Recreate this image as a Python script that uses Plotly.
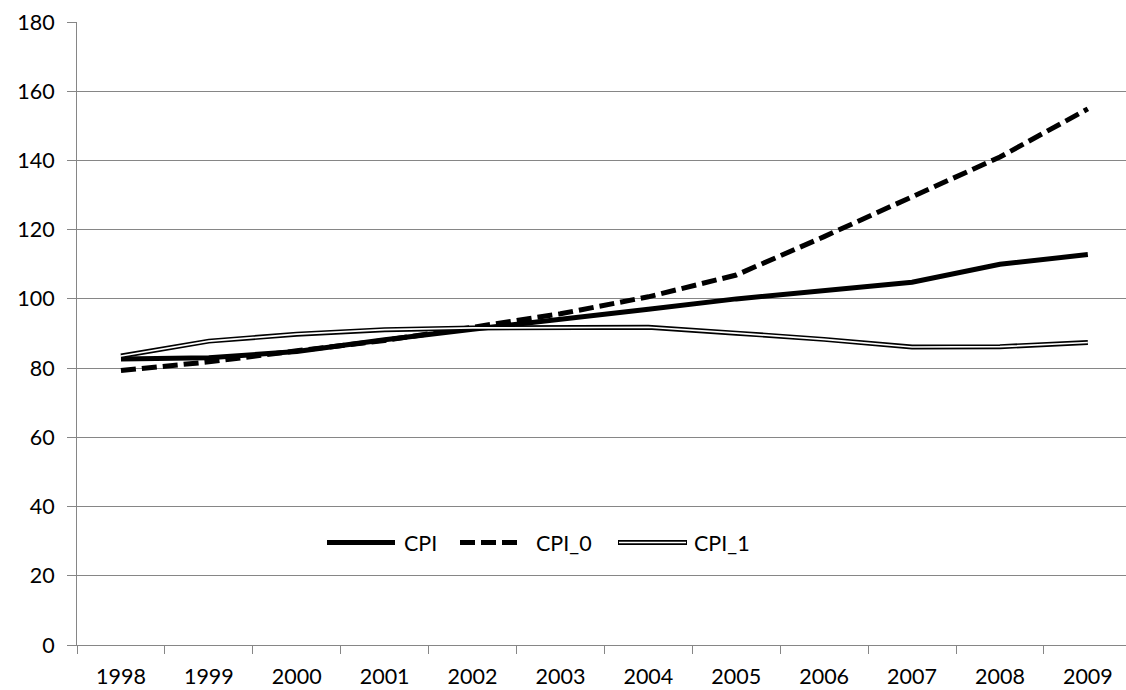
import plotly.graph_objects as go

# Price index series, 1998-2009
years = ["1998", "1999", "2000", "2001", "2002", "2003",
         "2004", "2005", "2006", "2007", "2008", "2009"]
cpi = [82.6, 83.0, 84.8, 88.2, 91.2, 94.0, 97.0, 100.0, 102.3, 104.8, 110.0, 112.8]
cpi_0 = [79.3, 81.8, 85.0, 88.0, 91.8, 95.7, 100.6, 106.9, 118.0, 129.4, 141.0, 154.9]
cpi_1 = [83.5, 87.8, 89.8, 91.1, 91.6, 91.8, 91.8, 90.1, 88.3, 86.1, 86.2, 87.4]

y_ticks = [0, 20, 40, 60, 80, 100, 120, 140, 160, 180]

FONT = "Lato"
GRID = "#868686"
W, H = 1126, 690
M_L, M_R, M_T, M_B = 77, 0, 22, 45

fig = go.Figure()

fig.add_trace(go.Scatter(x=years, y=cpi, mode="lines", name="CPI",
                         line=dict(color="black", width=5)))
fig.add_trace(go.Scatter(x=years, y=cpi_0, mode="lines", name="CPI_0",
                         line=dict(color="black", width=5, dash="15px,6px")))
# double line: dark outline with a white core
fig.add_trace(go.Scatter(x=years, y=cpi_1, mode="lines", name="CPI_1",
                         line=dict(color="black", width=5)))
fig.add_trace(go.Scatter(x=years, y=cpi_1, mode="lines", name="CPI_1 core",
                         line=dict(color="white", width=1.7)))

# hand-built legend inside the plot area
pw = W - M_L - M_R
ph = H - M_T - M_B


def px_x(px):
    return (px - M_L) / pw


def px_y(py):
    return (H - M_B - py) / ph


ly = px_y(542.5)
legend_items = [
    (327, 395, 401.7, "CPI", "solid"),
    (460, 519, 534, "CPI_0", "dash"),
    (618, 687, 692, "CPI_1", "double"),
]
for x0, x1, tx, label, style in legend_items:
    if style == "double":
        fig.add_shape(type="line", xref="paper", yref="paper",
                      x0=px_x(x0), x1=px_x(x1), y0=ly, y1=ly,
                      line=dict(color="black", width=5))
        fig.add_shape(type="line", xref="paper", yref="paper",
                      x0=px_x(x0 + 1), x1=px_x(x1 - 1), y0=ly, y1=ly,
                      line=dict(color="white", width=1.7))
    else:
        fig.add_shape(type="line", xref="paper", yref="paper",
                      x0=px_x(x0), x1=px_x(x1), y0=ly, y1=ly,
                      line=dict(color="black", width=5,
                                dash="15px,6px" if style == "dash" else "solid"))
    fig.add_annotation(xref="paper", yref="paper", x=px_x(tx), y=ly,
                       text=label, showarrow=False, xanchor="left", yanchor="middle",
                       font=dict(family=FONT, size=21.5, color="black"))

band = 87.9
fig.update_layout(
    width=W, height=H,
    margin=dict(l=M_L, r=M_R, t=M_T, b=M_B, pad=0),
    paper_bgcolor="white", plot_bgcolor="white",
    showlegend=False,
    font=dict(family=FONT, size=21.5, color="black"),
    xaxis=dict(
        type="category", categoryorder="array", categoryarray=years,
        range=[-0.5, -0.5 + pw / band],
        showgrid=False, zeroline=False,
        showline=True, linecolor=GRID, linewidth=1,
        ticks="outside", tickson="boundaries", ticklen=8,
        tickcolor=GRID, tickwidth=1,
        ticklabelstandoff=12,
        tickfont=dict(family=FONT, size=21.5, color="black"),
    ),
    yaxis=dict(
        range=[0, 180], tickvals=y_ticks,
        showgrid=True, gridcolor=GRID, gridwidth=1, zeroline=False,
        showline=True, linecolor=GRID, linewidth=1,
        ticks="outside", ticklen=9, tickcolor=GRID, tickwidth=1,
        ticklabelstandoff=8,
        tickfont=dict(family=FONT, size=21.5, color="black"),
    ),
)

fig.write_html("out.html")
